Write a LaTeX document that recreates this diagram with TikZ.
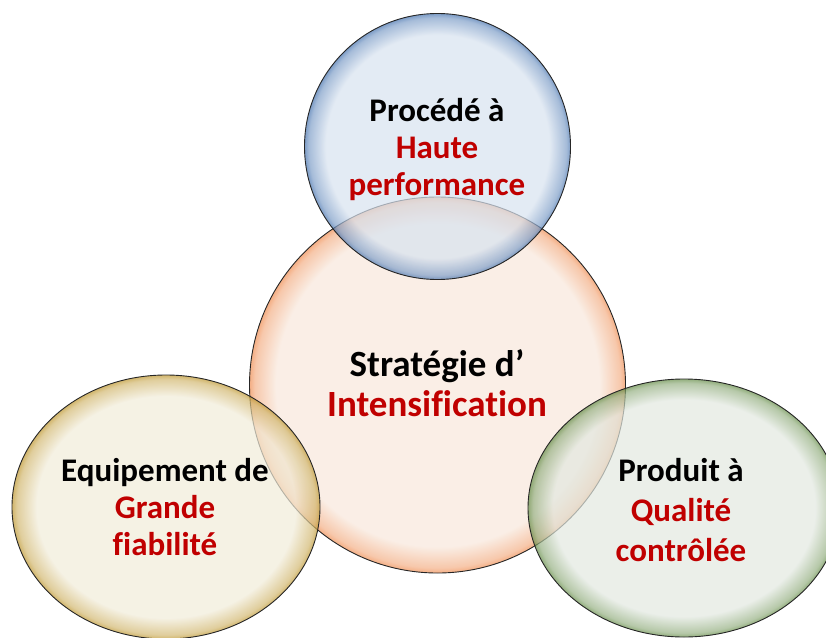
\documentclass[tikz,border=0pt]{standalone}
\usepackage{fontspec}
\setmainfont{Carlito}[Ligatures=NoCommon]
\definecolor{txtred}{RGB}{192,0,0}
\definecolor{bluein}{RGB}{215,226,239}
\definecolor{bluerim}{RGB}{70,115,175}
\definecolor{orangein}{RGB}{248,231,219}
\definecolor{orangerim}{RGB}{240,140,80}
\definecolor{yellowin}{RGB}{241,236,217}
\definecolor{yellowrim}{RGB}{190,150,45}
\definecolor{greenin}{RGB}{226,232,224}
\definecolor{greenrim}{RGB}{100,140,70}
\pgfdeclareradialshading{bluering}{\pgfpoint{0bp}{0bp}}{color(0bp)=(bluein); color(21bp)=(bluein); color(24.2bp)=(bluerim!60!bluein); color(25bp)=(bluerim); color(50bp)=(bluerim)}
\pgfdeclareradialshading{orangering}{\pgfpoint{0bp}{0bp}}{color(0bp)=(orangein); color(21.5bp)=(orangein); color(24.3bp)=(orangerim!60!orangein); color(25bp)=(orangerim); color(50bp)=(orangerim)}
\pgfdeclareradialshading{yellowring}{\pgfpoint{0bp}{0bp}}{color(0bp)=(yellowin); color(21bp)=(yellowin); color(24.2bp)=(yellowrim!60!yellowin); color(25bp)=(yellowrim); color(50bp)=(yellowrim)}
\pgfdeclareradialshading{greenring}{\pgfpoint{0bp}{0bp}}{color(0bp)=(greenin); color(21bp)=(greenin); color(24.2bp)=(greenrim!60!greenin); color(25bp)=(greenrim); color(50bp)=(greenrim)}
\tikzset{
	ring/.style={draw=black!85, line width=0.9pt, shading=#1ring, fill opacity=0.7, draw opacity=1},
	lbl/.style={align=center, inner sep=0pt, font=\bfseries\fontsize{33}{37}\selectfont},
	hot/.style={text=txtred}
}
\begin{document}
\begin{tikzpicture}[x=1pt,y=-1pt]
	\useasboundingbox (0,0) rectangle (826,637);
	\path 	(437.5,385) coordinate (S)
			(437.5,146.5) coordinate (P)
			(166,507) coordinate (E)
			(684,508) coordinate (Q);
	\draw[ring=orange] (S) circle (188pt);
	\draw[ring=blue] (P) circle (133pt);
	\draw[ring=yellow] (E) ellipse [x radius=154pt, y radius=132pt];
	\draw[ring=green] (Q) ellipse [x radius=156pt, y radius=129pt];
	\node[lbl, font=\bfseries\fontsize{37}{40}\selectfont] (strat) at (437,383)
		{Stratégie d’\\\textcolor{txtred}{Intensification}};
	\node[lbl] (proc) at (437,150)
		{Procédé à\\\textcolor{txtred}{Haute}\\\textcolor{txtred}{performance}};
	\node[lbl] (equip) at (165,507)
		{Equipement de\\\textcolor{txtred}{Grande}\\\textcolor{txtred}{fiabilité}};
	\node[lbl, font=\bfseries\fontsize{33}{40}\selectfont] (prod) at (681,510)
		{Produit à\\\textcolor{txtred}{Qualité}\\\textcolor{txtred}{contrôlée}};
\end{tikzpicture}
\end{document}
